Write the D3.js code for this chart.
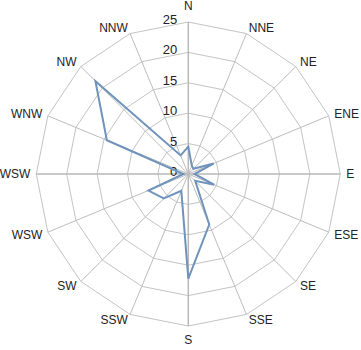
<!DOCTYPE html>
<html>
<head>
<meta charset="utf-8">
<script src="https://cdn.jsdelivr.net/npm/d3@7"></script>
<style>
  html, body { margin: 0; padding: 0; background: #fff; }
  svg { display: block; font-family: "Liberation Sans", Arial, sans-serif; }
</style>
</head>
<body>
<svg id="chart" width="361" height="350"></svg>
<script>
// Data
const directions = ["N", "NNE", "NE", "ENE", "E", "ESE", "SE", "SSE", "S", "SSW", "SW", "WSW", "WSW", "WNW", "NW", "NNW"];
const values = [4.5, 1.5, 1.2, 4.5, 1.0, 4.6, 1.6, 9.0, 17.2, 3.0, 5.7, 7.1, 0.8, 14.5, 21.6, 3.3];
const tickValues = [0, 5, 10, 15, 20, 25];

const svg = d3.select("#chart");
const cx = 188.3, cy = 174, R = 152;
const n = directions.length;

const r = d3.scaleLinear().domain([0, 25]).range([0, R]);
const angle = d3.scaleLinear().domain([0, n]).range([0, 2 * Math.PI]);

const g = svg.append("g").attr("transform", `translate(${cx},${cy})`);

function pt(i, v) {
  const a = angle(i);
  return [r(v) * Math.sin(a), -r(v) * Math.cos(a)];
}

// Grid rings (polygons)
const ringLine = d3.line().curve(d3.curveLinearClosed);
tickValues.filter(t => t > 0).forEach(t => {
  g.append("path")
    .attr("d", ringLine(d3.range(n).map(i => pt(i, t))))
    .attr("fill", "none")
    .attr("stroke", "#c4c4c4")
    .attr("stroke-width", 1);
});

// Spokes
d3.range(n).forEach(i => {
  const [x, y] = pt(i, 25);
  const main = (i % 4 === 0);
  g.append("line")
    .attr("x1", 0).attr("y1", 0).attr("x2", x).attr("y2", y)
    .attr("stroke", main ? "#b8b8b8" : "#bdbdbd")
    .attr("stroke-width", main ? 1.5 : 1);
});

// Tick labels
tickValues.forEach(t => {
  g.append("text")
    .attr("x", -11)
    .attr("y", -r(t) + 2)
    .attr("text-anchor", "end")
    .attr("font-size", 13)
    .attr("fill", "#222")
    .text(t);
});

// Direction labels
directions.forEach((d, i) => {
  const a = angle(i);
  const s = Math.sin(a), c = Math.cos(a);
  const rr = R + 6;
  let x = rr * s, y = -rr * c;
  let anchor = "middle", dy = "0.35em";
  if (s > 0.01) anchor = "start";
  else if (s < -0.01) anchor = "end";
  const t = g.append("text")
    .attr("font-size", 12)
    .attr("fill", "#222")
    .attr("text-anchor", anchor)
    .text(d);
  if (anchor === "middle") {
    if (c > 0) { t.attr("x", x).attr("y", y - 6); }
    else { t.attr("x", x).attr("y", y + 12); }
  } else {
    t.attr("x", x).attr("y", y).attr("dy", dy);
  }
});

// Data series
g.append("path")
  .datum(values)
  .attr("d", ringLine(values.map((v, i) => pt(i, v))))
  .attr("fill", "none")
  .attr("stroke", "#6f93bb")
  .attr("stroke-width", 2)
  .attr("stroke-linejoin", "miter");
</script>
</body>
</html>
